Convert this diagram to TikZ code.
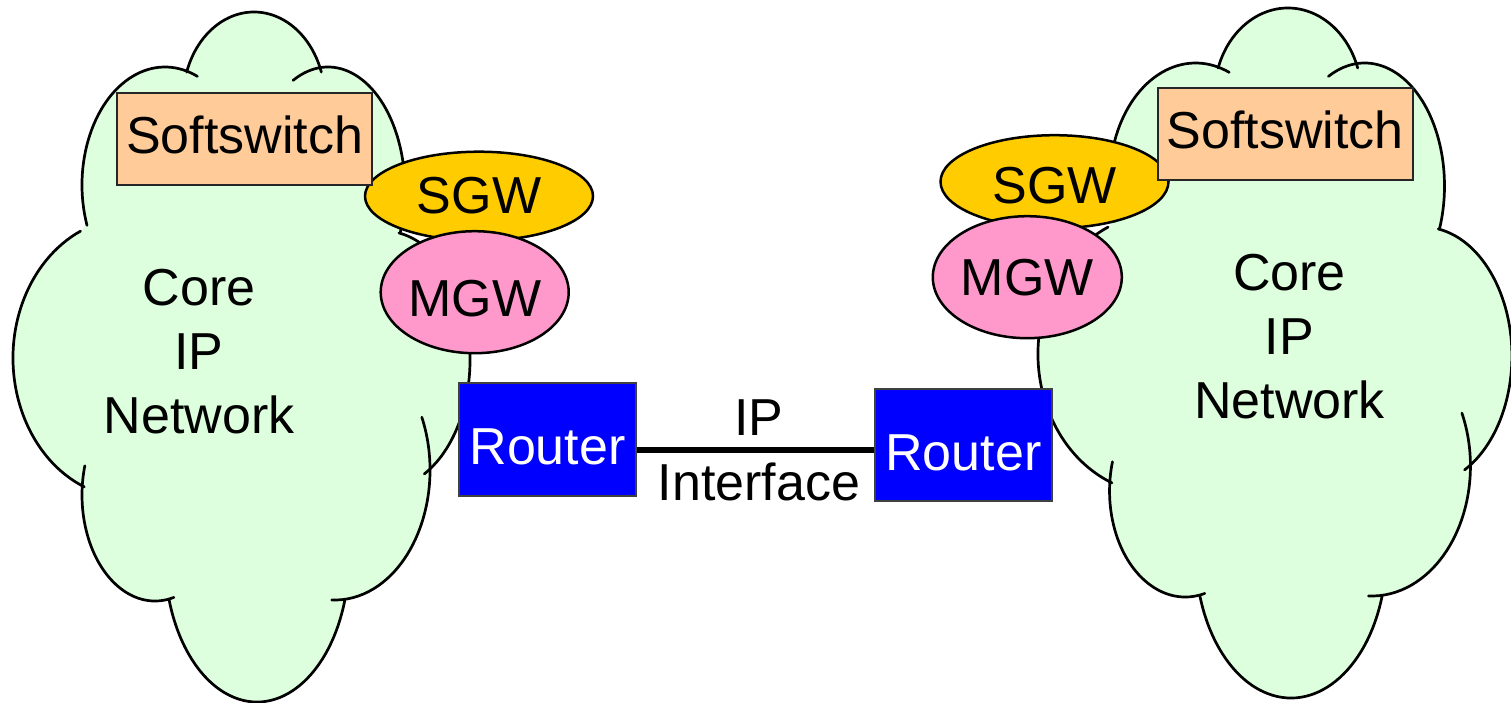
\documentclass[tikz,border=0pt]{standalone}
\usepackage{fontspec}
\setmainfont{Liberation Sans}
\usetikzlibrary{shapes.geometric,calc}

\definecolor{cloudgreen}{HTML}{DDFFDD}
\definecolor{peach}{HTML}{FFCC99}
\definecolor{gold}{HTML}{FFCC00}
\definecolor{rose}{HTML}{FF99CC}
\definecolor{routerblue}{HTML}{0000FF}

\tikzset{
  cloudline/.style={line width=2.7pt, line cap=round},
  bigtext/.style={font=\fontsize{52}{64}\selectfont, inner sep=0pt},
  capline/.style={text height=#1, text depth=0pt},
  switchbox/.style={bigtext, draw=black!85, line width=2pt, fill=peach,
    minimum width=255pt, minimum height=92pt, capline=28.5pt},
  gateway/.style={bigtext, ellipse, draw=black, line width=2.5pt},
  routerbox/.style={bigtext, draw=black!75, line width=2pt, fill=routerblue,
    text=white, minimum width=177pt, minimum height=112.5pt, capline=50.5pt},
  netlabel/.style={bigtext, align=center},
  link/.style={line width=6pt},
}

% Each lobe of the cloud: centre x, centre y, x radius, y radius, start and end angle
% (pixel-style coordinates, y pointing down).
\newcommand\cloudlobes[1]{%
  #1{254}{100}{71}{88}{198.5}{341.5}%
  #1{328}{190}{77}{123}{243}{380}%
  #1{384}{360}{86}{129}{-80}{62}%
  #1{335}{470}{95}{130}{-24}{92}%
  #1{257}{557}{92}{145}{17}{163}%
  #1{155}{495}{73}{106}{75}{196}%
  #1{130}{358}{117}{140}{113}{245}%
  #1{165}{185}{83}{118}{160}{293}%
}
\newcommand\lobefill[6]{\fill[cloudgreen] (#1,#2) ellipse [x radius=#3, y radius=#4];}
\newcommand\lobeedge[6]{\draw[cloudline] ($(#1,#2)+(#5:#3 and #4)$)
  arc [start angle=#5, end angle=#6, x radius=#3, y radius=#4];}
\newcommand\cloudshape{%
  \fill[cloudgreen] (186,75) -- (300,75) -- (403,233) -- (425,420) -- (340,600)
    -- (167,600) -- (83,475) -- (83,228) -- cycle;
  \cloudlobes\lobefill
  \cloudlobes\lobeedge
}

\begin{document}
\begin{tikzpicture}[x=1pt, y=1pt, yscale=-1]
  \useasboundingbox (0,0) rectangle (1511,703);

  % the two core networks
  \cloudshape
  \begin{scope}[shift={(1024.5,-4)}, xscale=1.037]
    \cloudshape
  \end{scope}

  % gateways
  \node[gateway, fill=gold, minimum width=228pt, minimum height=89pt, capline=34pt]
    (sgwL) at (479,196.2) {SGW};
  \node[gateway, fill=rose, minimum width=188pt, minimum height=122pt, capline=49pt]
    (mgwL) at (474.7,292.2) {MGW};
  \node[gateway, fill=gold, minimum width=228pt, minimum height=93pt, capline=43pt]
    (sgwR) at (1054.5,181.7) {SGW};
  \node[gateway, fill=rose, minimum width=189pt, minimum height=122pt, capline=36pt]
    (mgwR) at (1027.3,277.2) {MGW};

  % softswitches
  \node[switchbox] (ssL) at (244.5,138.9) {Softswitch};
  \node[switchbox] (ssR) at (1285,134.2) {Softswitch};

  % routers
  \node[routerbox] (lr) at (547.5,439.7) {Router};
  \node[routerbox] (rr) at (963.3,445) {Router};

  % IP interface between the routers
  \coordinate (la) at ($(lr.south east)!0.408!(lr.north east)$);
  \draw[link] (la) -- node[netlabel, pos=0.515, font=\fontsize{52}{65}\selectfont]
    (iface) {IP\\Interface} (la -| rr.west);

  % network labels
  \node[netlabel] (netL) at (199,352) {Core\\IP\\Network};
  \node[netlabel] (netR) at (1289.5,337) {Core\\IP\\Network};
\end{tikzpicture}
\end{document}
